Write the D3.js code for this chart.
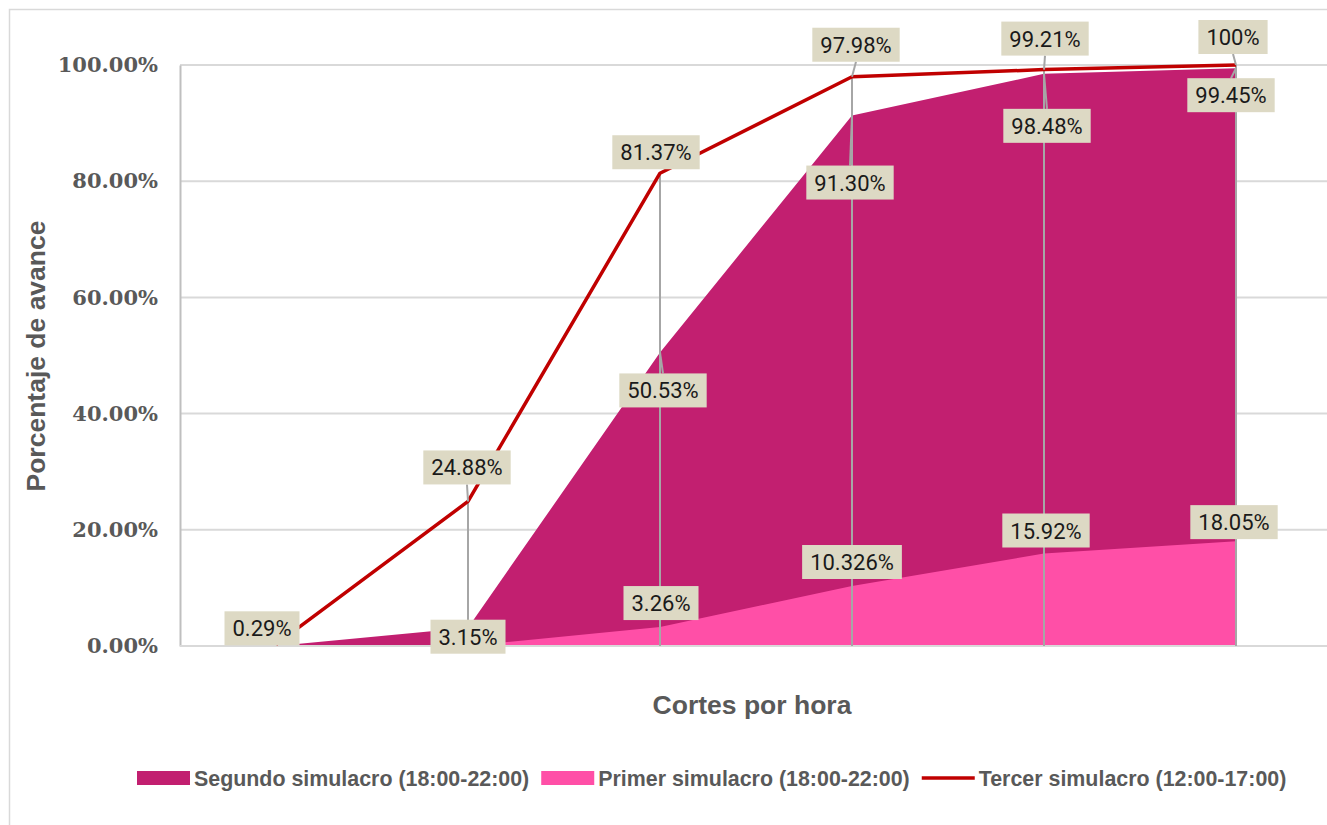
<!DOCTYPE html>
<html>
<head>
<meta charset="utf-8">
<script src="https://cdn.jsdelivr.net/npm/d3@7"></script>
<style>
  body { margin: 0; background: #fff; }
  svg { display: block; }
</style>
</head>
<body>
<div id="chart"></div>
<script>
// data (fractions of 1)
var cortes = ["1", "2", "3", "4", "5", "6"];
var segundo = [0, 0.0315, 0.5053, 0.9130, 0.9848, 0.9945];
var primero = [0, 0, 0.0326, 0.10326, 0.1592, 0.1805];
var tercero = [0.0029, 0.2488, 0.8137, 0.9798, 0.9921, 1.0];
var segundoLbl = [null, "3.15%", "50.53%", "91.30%", "98.48%", "99.45%"];
var primeroLbl = [null, null, "3.26%", "10.326%", "15.92%", "18.05%"];
var terceroLbl = ["0.29%", "24.88%", "81.37%", "97.98%", "99.21%", "100%"];
var yTicks = [0, 0.2, 0.4, 0.6, 0.8, 1.0];
var seriesNames = ["Segundo simulacro (18:00-22:00)", "Primer simulacro (18:00-22:00)", "Tercer simulacro (12:00-17:00)"];

// label offsets from the point (layout only)
var terceroOff = [[-14, -16], [-1, -34], [-4, -21], [4, -32], [1, -31], [-3, -28]];
var segundoOff = [null, [0, 9], [3, 38], [-2, 67], [3, 52], [-5, 27]];
var primeroOff = [null, null, [1, -24], [0, -24], [2, -23], [-2, -19]];

var W = 1327, H = 825;
var colSeg = "#C21F70", colPri = "#FF4FA7", colTer = "#C00000";
var grey = "#595959";

var svg = d3.select("#chart").append("svg")
    .attr("width", W).attr("height", H);

// chart border
svg.append("rect")
    .attr("x", 9.5).attr("y", 9.5)
    .attr("width", W + 20).attr("height", H + 20)
    .attr("fill", "none").attr("stroke", "#D9D9D9").attr("stroke-width", 1.5);

var x = d3.scalePoint().domain(cortes).range([180, 1332]).padding(0.5);
var y = d3.scaleLinear().domain([0, 1]).range([646, 65]);

// gridlines
svg.append("g").selectAll("line").data(yTicks.slice(1)).enter().append("line")
    .attr("x1", 180).attr("x2", W)
    .attr("y1", function(d) { return y(d); }).attr("y2", function(d) { return y(d); })
    .attr("stroke", "#D9D9D9").attr("stroke-width", 2);

// y axis
var yAxis = d3.axisLeft(y).tickValues(yTicks).tickSize(0).tickPadding(22)
    .tickFormat(function(d) { return d3.format(".2%")(d); });
var ya = svg.append("g").attr("transform", "translate(180,0)").call(yAxis);
ya.select(".domain").attr("stroke", "#BFBFBF").attr("stroke-width", 2);
ya.selectAll("text")
    .attr("font-family", "DejaVu Serif").attr("font-weight", "bold")
    .attr("font-size", 21).attr("fill", grey);

// areas
var area = function(vals) {
  return d3.area()
      .x(function(d, i) { return x(cortes[i]); })
      .y0(y(0))
      .y1(function(d) { return y(d); })(vals);
};
svg.append("path").attr("d", area(segundo)).attr("fill", colSeg);
svg.append("path").attr("d", area(primero)).attr("fill", colPri);

// baseline
svg.append("line").attr("x1", 180).attr("x2", W).attr("y1", y(0)).attr("y2", y(0))
    .attr("stroke", "#D9D9D9").attr("stroke-width", 2);

// drop lines
var drops = svg.append("g");
cortes.forEach(function(c, i) {
  if (i === 0) return;
  var top = Math.max(segundo[i], primero[i], tercero[i]);
  drops.append("line")
      .attr("x1", x(c)).attr("x2", x(c))
      .attr("y1", y(top)).attr("y2", y(0))
      .attr("stroke", "#A6A6A6").attr("stroke-width", 2);
});

// tercer line
svg.append("path")
    .attr("d", d3.line().x(function(d, i) { return x(cortes[i]); }).y(function(d) { return y(d); })(tercero))
    .attr("fill", "none").attr("stroke", colTer).attr("stroke-width", 3.5)
    .attr("stroke-linejoin", "round");

// data labels
var lbl = svg.append("g");
function addLabels(vals, texts, offs, leader) {
  vals.forEach(function(v, i) {
    if (!texts[i]) return;
    var px = x(cortes[i]), py = y(v);
    var cx = px + offs[i][0], cy = py + offs[i][1];
    var g = lbl.append("g");
    var t = g.append("text").attr("x", cx).attr("y", cy + 8)
        .attr("text-anchor", "middle")
        .attr("font-family", "Roboto").attr("font-size", 22).attr("fill", "#1a1a1a")
        .text(texts[i]);
    var w = t.node().getComputedTextLength() + 16, h = 34;
    if (leader && Math.abs(offs[i][1]) > h / 2 + 4) {
      var ey = offs[i][1] < 0 ? cy + h / 2 : cy - h / 2;
      lbl.insert("line", ":first-child")
          .attr("x1", px).attr("y1", py).attr("x2", cx).attr("y2", ey)
          .attr("stroke", "#A6A6A6").attr("stroke-width", 2);
    }
    g.insert("rect", "text")
        .attr("x", cx - w / 2).attr("y", cy - h / 2)
        .attr("width", w).attr("height", h).attr("fill", "#DDD9C4");
  });
}
addLabels(segundo, segundoLbl, segundoOff, true);
addLabels(primero, primeroLbl, primeroOff, false);
addLabels(tercero, terceroLbl, terceroOff, true);

// axis titles
svg.append("text")
    .attr("transform", "translate(45,356) rotate(-90)")
    .attr("text-anchor", "middle")
    .attr("font-family", "Liberation Sans").attr("font-weight", "bold")
    .attr("font-size", 26.5).attr("fill", grey)
    .text("Porcentaje de avance");
svg.append("text")
    .attr("x", 752).attr("y", 714)
    .attr("text-anchor", "middle")
    .attr("font-family", "Liberation Sans").attr("font-weight", "bold")
    .attr("font-size", 26.5).attr("fill", grey)
    .text("Cortes por hora");

// legend
var legend = svg.append("g");
var lx = 137, ly = 778;
var legCols = [colSeg, colPri, colTer];
seriesNames.forEach(function(name, i) {
  if (i < 2) {
    legend.append("rect").attr("x", lx).attr("y", ly - 7).attr("width", 53).attr("height", 14)
        .attr("fill", legCols[i]);
  } else {
    legend.append("line").attr("x1", lx).attr("x2", lx + 53).attr("y1", ly).attr("y2", ly)
        .attr("stroke", legCols[i]).attr("stroke-width", 3.5);
  }
  var t = legend.append("text").attr("x", lx + 57).attr("y", ly + 7.5)
      .attr("font-family", "Liberation Sans").attr("font-weight", "bold")
      .attr("font-size", 21.4).attr("fill", grey)
      .text(name);
  lx += 57 + t.node().getComputedTextLength() + 12;
});
</script>
</body>
</html>
